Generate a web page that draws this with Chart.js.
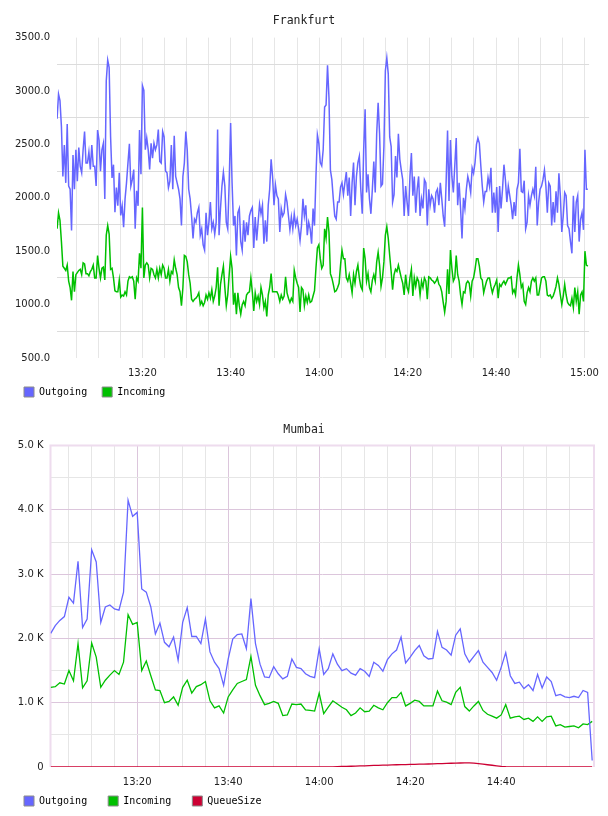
<!DOCTYPE html>
<html>
<head>
<meta charset="utf-8">
<script src="https://cdn.jsdelivr.net/npm/chart.js@4.4.1/dist/chart.umd.min.js"></script>
<style>
  html, body { margin: 0; padding: 0; background: #fff; overflow: hidden; }
  canvas { position: absolute; left: 0; }
  #frankfurt { top: 0; }
  #mumbai { top: 407px; }
</style>
</head>
<body>
<canvas id="frankfurt" width="608" height="414"></canvas>
<canvas id="mumbai" width="608" height="422"></canvas>
<script>
// Frankfurt: samples roughly every 20 s, times in minutes after 13:00
const frankfurtFirstMinute = 0.72;
const frankfurtLastMinute = 120.76;

const frankfurtOutgoing = [
  2740, 2970, 2910, 2665, 2200, 2495, 2140, 2690, 2110, 2080,
  1695, 2400, 2080, 2450, 2155, 2470, 2295, 2235, 2450, 2620,
  2325, 2325, 2430, 2265, 2495, 2295, 2295, 2110, 2635, 2540,
  2250, 2450, 2510, 1990, 3095, 3290, 3220, 2570, 2185, 2310,
  1865, 2095, 1925, 2235, 1835, 1925, 1725, 1990, 2140, 2325,
  2505, 2110, 2170, 2265, 1710, 2065, 1925, 2635, 2220, 3050,
  3005, 2450, 2560, 2450, 2265, 2510, 2370, 2510, 2450, 2495,
  2640, 2340, 2325, 2620, 2570, 2250, 2235, 2095, 2155, 2495,
  2080, 2580, 2200, 2140, 2080, 1990, 1740, 2200, 2325, 2620,
  2450, 2080,
  1990, 1830, 1620, 1800, 1770, 1860, 1910, 1650, 1710, 1560,
  1510, 1860, 1650, 1770, 1960, 1710, 1770, 1660, 1770, 2640,
  1650, 1900, 2110, 2240, 2110, 1770, 1710, 2140, 2700, 2140,
  1740, 1830, 1460, 1860, 1900, 1590, 1510, 1790, 1590, 1770,
  1650, 1830, 1880, 1910, 1530, 1820, 1600, 1770, 1940, 1850,
  1930, 1570, 1790, 1590, 1930, 2080, 2360, 2200, 1930, 2120,
  2020, 1990, 1680, 1900, 1830, 1860, 2030, 1960, 1830, 1700,
  1820, 1710, 1850, 1740, 1800, 1710, 1600, 1740, 1990, 1830,
  1930, 1650, 1770, 1710, 1570, 1900, 1740, 2200, 2590, 2510,
  2330, 2300, 2450,
  2850, 2870, 3240, 2940, 2260, 2170, 1990, 1830, 1800, 1960,
  1960, 2100, 2140, 2030, 2140, 2240, 2020, 2190, 1830, 2140,
  2330, 1930, 2200, 2330, 2390, 2080, 1850, 2450, 2830, 2050,
  2220, 1990, 1850, 2080, 2340, 2050, 2600, 2890, 2600, 2110,
  2130, 2480, 3190, 3310, 3160, 2570, 2480, 1960, 2030, 2390,
  2190, 2600, 2360, 2260, 2170, 1830, 2110, 1960, 1830, 2200,
  2420, 2020, 2200, 1860, 2080, 2200, 1830, 1990, 1900, 2170,
  2140, 1740, 2080, 1930, 2020, 1990, 1860, 2050, 2080, 1930,
  2140, 1990, 1830, 1730, 2140, 2630, 1970, 2540, 2200, 2050,
  2300, 2560, 1930, 2140,
  1900, 1620, 2000, 1900, 2080, 2200, 2140, 2050, 2280, 2230,
  2330, 2500, 2560, 2510, 2300, 2110, 1960, 2060, 2060, 2190,
  2110, 2280, 1860, 2050, 1860, 2100, 1680, 2110, 1900, 2080,
  2310, 2170, 1960, 2110, 2020, 1930, 1800, 1960, 1830, 2080,
  2140, 2460, 2060, 2050, 2160, 1710, 1770, 2020, 1930, 2020,
  2080, 2020, 2290, 1740, 1960, 2080, 2110, 2170, 2260, 2110,
  1860, 2140, 2110, 1740, 1960, 1770, 2060, 1860, 2230, 2020,
  1680, 1830, 2050, 2020, 1740, 1710, 1590, 1480, 2020, 1680,
  1960, 2020, 1590, 1800, 1860, 1700, 2450, 2080, 2080
];

const frankfurtIncoming = [
  1710, 1860, 1790, 1590, 1360, 1340, 1320, 1370, 1220, 1160,
  1040, 1310, 1120, 1280, 1300, 1320, 1330, 1280, 1390, 1380,
  1290, 1290, 1270, 1310, 1330, 1370, 1250, 1250, 1460, 1340,
  1250, 1340, 1350, 1230, 1650, 1740, 1660, 1330, 1340, 1250,
  1130, 1120, 1120, 1230, 1070, 1090, 1080, 1120, 1090, 1220,
  1260, 1250, 1260, 1220, 1050, 1250, 1220, 1480, 1340, 1910,
  1250, 1370, 1390, 1370, 1250, 1340, 1330, 1280, 1250, 1330,
  1250, 1340, 1280, 1370, 1340, 1250, 1250, 1330, 1220, 1310,
  1290, 1420, 1340, 1280, 1160, 1120, 990, 1160, 1460, 1450,
  1400, 1280,
  1200, 1050, 1030, 1050, 1060, 1080, 1110, 1000, 1030, 990,
  1020, 1090, 1050, 1110, 1060, 1140, 1030, 1080, 1160, 1350,
  990, 1190, 1280, 1360, 1160, 990, 1090, 1280, 1450, 1340,
  1000, 1110, 910, 1110, 990, 910, 1000, 1030, 990, 1090,
  1110, 1120, 1250, 1120, 940, 1110, 1030, 1080, 1000, 1160,
  1090, 970, 1030, 890, 1090, 1160, 1290, 1120, 1120, 1120,
  1120, 1090, 1030, 1090, 1050, 1080, 1260, 1110, 1060, 1020,
  1060, 1030, 1320, 1250, 1200, 1160, 930, 1160, 1140, 990,
  1080, 1020, 1090, 1020, 1030, 1080, 1130, 1340, 1530, 1560,
  1430, 1340, 1370,
  1710, 1620, 1820, 1680, 1290, 1250, 1190, 1120, 1130, 1160,
  1200, 1370, 1510, 1430, 1430, 1250, 1220, 1280, 1200, 1110,
  1280, 1200, 1310, 1370, 1250, 1170, 1140, 1530, 1430, 1220,
  1290, 1160, 1120, 1230, 1280, 1220, 1400, 1490, 1370, 1170,
  1250, 1400, 1650, 1730, 1620, 1460, 1310, 1140, 1280, 1330,
  1310, 1370, 1310, 1250, 1200, 1090, 1280, 1160, 1120, 1250,
  1330, 1080, 1250, 1170, 1250, 1220, 1090, 1220, 1160, 1250,
  1220, 1050, 1260, 1250, 1230, 1220, 1200, 1220, 1250, 1190,
  1170, 1120, 1020, 930, 1030, 1330, 1100, 1510, 1340, 1220,
  1250, 1460, 1280, 1220,
  1090, 1000, 1120, 1110, 1200, 1220, 1200, 1080, 1220, 1250,
  1330, 1430, 1430, 1360, 1250, 1230, 1110, 1170, 1220, 1250,
  1250, 1170, 1110, 1160, 1190, 1230, 1060, 1190, 1170, 1200,
  1220, 1190, 1220, 1250, 1250, 1260, 1110, 1140, 1090, 1250,
  1370, 1280, 1160, 1190, 1030, 1000, 1110, 1160, 1120, 1220,
  1250, 1220, 1250, 1090, 1090, 1170, 1250, 1260, 1260, 1220,
  1090, 1080, 1090, 1060, 1080, 1120, 1170, 1250, 1190, 1090,
  1000, 1080, 1190, 1090, 1020, 1000, 990, 1060, 970, 1160,
  1030, 1120, 910, 1090, 1120, 1030, 1500, 1370, 1360
];

// Mumbai: one sample per minute, 13:01 .. 15:00
const mumbaiFirstMinute = 1;
const mumbaiLastMinute = 120;

const mumbaiOutgoing = [
  2080, 2200, 2280, 2340, 2640, 2550, 3200, 2170, 2300, 3380,
  3190, 2250, 2490, 2520, 2460, 2440, 2720, 4150, 3900, 3960,
  2770, 2720, 2490, 2070, 2240, 1940, 1870, 2020, 1660, 2250,
  2480, 2030, 2030, 1920, 2300, 1790, 1630, 1530, 1270, 1680,
  1990, 2060, 2070, 1840, 2620, 1920, 1600, 1400, 1390, 1560,
  1450, 1370, 1410, 1680, 1550, 1530, 1450, 1410, 1390, 1840,
  1440, 1530, 1760, 1600, 1500, 1530, 1460, 1430, 1530, 1490,
  1410, 1630, 1580, 1490, 1670, 1760, 1820, 2020, 1620, 1710,
  1810, 1890, 1730, 1680, 1690, 2110, 1860, 1820, 1740, 2050,
  2150, 1760, 1630, 1720, 1810, 1630, 1550, 1470, 1350, 1550,
  1780, 1420, 1300, 1320, 1220, 1280, 1190, 1440, 1230, 1400,
  1330, 1110, 1130, 1090, 1080, 1100, 1080, 1190, 1160, 100
];

const mumbaiIncoming = [
  1240, 1250, 1310, 1290, 1500, 1340, 1920, 1230, 1340, 1930,
  1710, 1240, 1350, 1430, 1500, 1440, 1630, 2370, 2220, 2250,
  1500, 1650, 1420, 1200, 1190, 1000, 1020, 1090, 960, 1240,
  1350, 1150, 1250, 1280, 1330, 1030, 920, 950, 840, 1090,
  1200, 1300, 1330, 1360, 1720, 1270, 1110, 970, 990, 1020,
  990, 800, 810, 980, 970, 980, 890, 880, 870, 1150,
  830, 930, 1030, 980, 930, 890, 800, 840, 920, 860,
  870, 960, 920, 890, 1000, 1080, 1080, 1160, 950, 990,
  1040, 1020, 950, 950, 950, 1180, 1030, 1010, 970, 1160,
  1240, 940, 870, 950, 1020, 880, 820, 790, 760, 810,
  970, 760, 780, 790, 740, 760, 710, 780, 710, 780,
  790, 640, 660, 620, 630, 640, 610, 670, 660, 710
];

const mumbaiQueueSize = [
  0, 0, 0, 0, 0, 0, 0, 0, 0, 0,
  0, 0, 0, 0, 0, 0, 0, 0, 0, 0,
  0, 0, 0, 0, 0, 0, 0, 0, 0, 0,
  0, 0, 0, 0, 0, 0, 0, 0, 0, 0,
  0, 0, 0, 0, 0, 0, 0, 0, 0, 0,
  0, 0, 0, 0, 0, 0, 0, 0, 0, 0,
  0, 0, 3, 5, 8, 10, 12, 15, 17, 19,
  22, 24, 26, 28, 30, 33, 35, 36, 38, 40,
  42, 44, 46, 47, 49, 51, 53, 55, 58, 60,
  62, 64, 65, 60, 52, 44, 35, 27, 18, 10,
  4, 0, 0, 0, 0, 0, 0, 0, 0, 0,
  0, 0, 0, 0, 0, 0, 0, 0, 0, 0
];

const frankfurtTimeLabels = ['13:20', '13:40', '14:00', '14:20', '14:40', '15:00'];
const mumbaiTimeLabels = ['13:20', '13:40', '14:00', '14:20', '14:40'];
const frankfurtValueLabels = [500, 1000, 1500, 2000, 2500, 3000, 3500];
const mumbaiValueLabels = [0, 1000, 2000, 3000, 4000, 5000];

const seriesColors = {
  outgoing: '#6666ff',
  incoming: '#00c000',
  queue: '#cc0033',
};

const baseHour = 13;
const tickFont = { family: 'DejaVu Sans', size: 10 };
const legendFont = { family: 'DejaVu Sans Mono', size: 10 };
const titleFont = { family: 'DejaVu Sans Mono', size: 11.5, weight: 'normal' };

function toMinutes(label) {
  const [h, m] = label.split(':').map(Number);
  return (h - baseHour) * 60 + m;
}

function toLabel(minutes) {
  const h = baseHour + Math.floor(minutes / 60);
  return h + ':' + String(minutes % 60).padStart(2, '0');
}

function toPoints(values, first, last) {
  const step = (last - first) / (values.length - 1);
  return values.map((v, i) => ({ x: first + i * step, y: v }));
}

function lineSet(label, color, values, first, last, width) {
  return {
    label,
    data: toPoints(values, first, last),
    borderColor: color,
    backgroundColor: color,
    borderWidth: width,
    pointRadius: 0,
    tension: 0,
    fill: false,
  };
}

// the legend sits close under the time labels; pin its box where the original has it
const legendShift = {
  id: 'legendShift',
  afterLayout(chart, args, opts) {
    const legend = chart.legend;
    legend.left = opts.left - legend.options.labels.padding;
    legend.top = opts.top;
    legend.bottom = opts.top + legend.height;
  },
};

const mumbaiFrame = {
  id: 'mumbaiFrame',
  beforeDatasetsDraw(chart) {
    const { ctx, chartArea: a } = chart;
    ctx.save();
    ctx.strokeStyle = '#eedcee';
    ctx.lineWidth = 2;
    ctx.beginPath();
    ctx.moveTo(a.left, a.bottom);
    ctx.lineTo(a.left, a.top);
    ctx.lineTo(a.right, a.top);
    ctx.lineTo(a.right, a.bottom);
    ctx.stroke();
    ctx.restore();
  },
};

function timeAxis(min, max, lastGrid, labels, gridColor) {
  const labelled = labels.map(toMinutes);
  return {
    type: 'linear',
    min,
    max,
    afterBuildTicks: (axis) => {
      const ticks = [];
      for (let m = 5; m <= lastGrid; m += 5) ticks.push({ value: m });
      axis.ticks = ticks;
    },
    afterFit: (axis) => { axis.height = 21; },
    ticks: {
      autoSkip: false,
      maxRotation: 0,
      padding: 9,
      color: '#222',
      font: tickFont,
      callback: (v) => (labelled.includes(v) ? toLabel(v) : ''),
    },
    grid: { drawTicks: false, lineWidth: 1, color: gridColor },
    border: { display: false },
  };
}

function legendOptions(padding) {
  return {
    position: 'bottom',
    align: 'start',
    labels: {
      boxWidth: 10,
      boxHeight: 10,
      padding,
      color: '#000',
      font: legendFont,
      generateLabels: (chart) =>
        Chart.defaults.plugins.legend.labels.generateLabels(chart)
          .map((item) => Object.assign(item, { strokeStyle: '#8c8c8c', lineWidth: 1 })),
    },
  };
}

// Frankfurt
new Chart(document.getElementById('frankfurt'), {
  type: 'line',
  data: {
    datasets: [
      lineSet('Outgoing', seriesColors.outgoing, frankfurtOutgoing, frankfurtFirstMinute, frankfurtLastMinute, 1.5),
      lineSet('Incoming', seriesColors.incoming, frankfurtIncoming, frankfurtFirstMinute, frankfurtLastMinute, 1.5),
    ],
  },
  options: {
    responsive: false,
    animation: false,
    devicePixelRatio: 1,
    layout: { padding: { left: 14, right: 14, top: 0, bottom: 0 } },
    plugins: {
      title: { display: true, text: 'Frankfurt', color: '#222', font: titleFont, padding: { top: 14, bottom: 9.8 } },
      legend: legendOptions(15),
      legendShift: { left: 24, top: 372 },
      tooltip: { enabled: false },
    },
    scales: {
      x: timeAxis(0.7, 121.05, 120, frankfurtTimeLabels, '#e6e6e6'),
      y: {
        min: 500,
        max: 3500,
        afterBuildTicks: (axis) => {
          const ticks = [];
          for (let v = 500; v <= 3500; v += 250) ticks.push({ value: v });
          axis.ticks = ticks;
        },
        afterFit: (axis) => { axis.width = 43; },
        ticks: {
          autoSkip: false,
          padding: 7,
          color: '#222',
          font: tickFont,
          callback: (v) => (frankfurtValueLabels.includes(v) ? v.toFixed(1) : ''),
        },
        grid: {
          drawTicks: false,
          color: (c) => (frankfurtValueLabels.includes(c.tick.value) ? 'rgba(0,0,0,0)' : '#dcdcdc'),
        },
        border: { display: false },
      },
    },
  },
  plugins: [legendShift],
});

// Mumbai
new Chart(document.getElementById('mumbai'), {
  type: 'line',
  data: {
    datasets: [
      lineSet('Outgoing', seriesColors.outgoing, mumbaiOutgoing, mumbaiFirstMinute, mumbaiLastMinute, 1.3),
      lineSet('Incoming', seriesColors.incoming, mumbaiIncoming, mumbaiFirstMinute, mumbaiLastMinute, 1.3),
      lineSet('QueueSize', seriesColors.queue, mumbaiQueueSize, mumbaiFirstMinute, mumbaiLastMinute, 1.3),
    ],
  },
  options: {
    responsive: false,
    animation: false,
    devicePixelRatio: 1,
    layout: { padding: { left: 14, right: 14, top: 0, bottom: 0 } },
    plugins: {
      title: { display: true, text: 'Mumbai', color: '#222', font: titleFont, padding: { top: 16, bottom: 8.8 } },
      legend: legendOptions(21),
      legendShift: { left: 24, top: 368 },
      tooltip: { enabled: false },
    },
    scales: {
      x: timeAxis(0.95, 120.4, 115, mumbaiTimeLabels,
        (c) => (c.tick.value % 20 === 0 ? '#dcc6dc' : '#e6e6e6')),
      y: {
        min: 0,
        max: 5000,
        afterBuildTicks: (axis) => {
          const ticks = [];
          for (let v = 0; v <= 5000; v += 500) ticks.push({ value: v });
          axis.ticks = ticks;
        },
        afterFit: (axis) => { axis.width = 36.5; },
        ticks: {
          autoSkip: false,
          padding: 7,
          color: '#222',
          font: tickFont,
          callback: (v) => {
            if (!mumbaiValueLabels.includes(v)) return '';
            return v === 0 ? '0' : (v / 1000).toFixed(1) + ' K';
          },
        },
        grid: {
          drawTicks: false,
          color: (c) => {
            const v = c.tick.value;
            if (v === 0 || v === 5000) return 'rgba(0,0,0,0)';
            return v % 1000 === 0 ? '#dcc6dc' : '#e6e6e6';
          },
        },
        border: { display: false },
      },
    },
  },
  plugins: [legendShift, mumbaiFrame],
});
</script>
</body>
</html>
